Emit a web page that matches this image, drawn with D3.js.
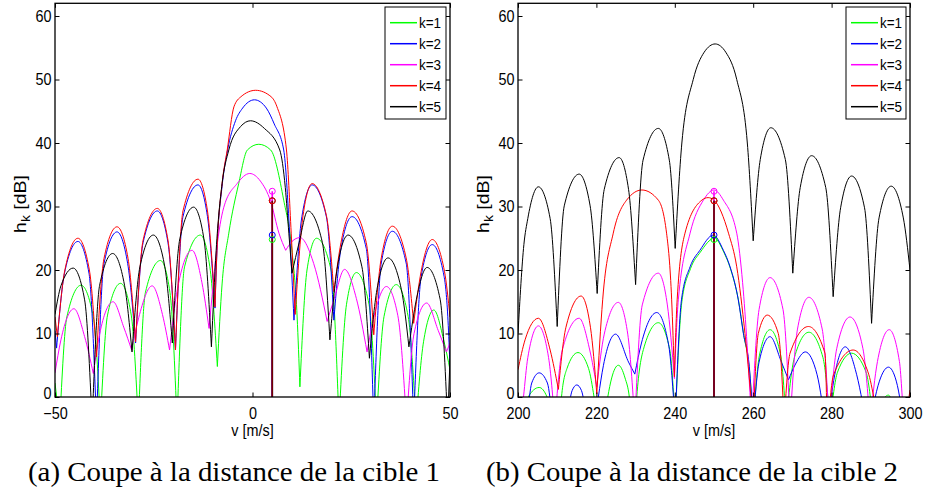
<!DOCTYPE html>
<html><head><meta charset="utf-8">
<script src="https://cdn.jsdelivr.net/npm/d3@7"></script>
<style>body{margin:0;background:#fff}svg{display:block}</style>
</head><body><svg id="c" width="925" height="495"></svg>
<script>
// ---------- data ----------
const seriesNames = ["k=1", "k=2", "k=3", "k=4", "k=5"];
const seriesColors = ["#00ff00", "#0000ff", "#ff00ff", "#ff0000", "#000000"];
const yTickValues = [0, 10, 20, 30, 40, 50, 60];
const xTicksA = [-50, 0, 50];
const xTicksB = [200, 220, 240, 260, 280, 300];
const stemVA = 5;
const stemVB = 250;
const stemHeights = [24.8, 25.5, 32.4, 30.9, 30.9];
const captions = ["(a) Coupe à la distance de la cible 1", "(b) Coupe à la distance de la cible 2"];

// panel (a): v in [-50, 50]
const a_k1 = [[-50,2.2],[-48.8,-4],[-47,12.6],[-43.4,17.6],[-40.3,12.6],[-38.5,-4],[-36.7,12.9],[-33.4,17.9],[-30.7,12.9],[-28.9,-4],[-27.1,16.5],[-23.3,21.5],[-20.9,16.5],[-19.1,-4],[-17.2,20.5],[-13.2,25.5],[-10.8,20.5],[-8.9,4.8],[-7.7,17.8],[-6,25.8],[-3.5,33.6],[-1.3,38.9],[1.6,39.8],[4.6,38.9],[7.9,31],[10,23],[11.3,12.6],[12,1.6],[13.8,20],[16.2,25],[19.9,20],[21.9,-4],[23.8,14.6],[26.3,19.6],[29.5,14.6],[31.4,-4],[33.3,12.7],[36.4,17.7],[39.4,12.7],[41.4,-4],[43.3,8.7],[45.9,13.7],[48.5,8.7],[50,4.3]];
const a_k2 = [[-50,10.4],[-49.6,7.7],[-47.6,19.5],[-44.2,24.5],[-41.4,19.5],[-39.5,-4],[-37.6,21],[-34.3,26],[-31.6,21],[-29.6,8.5],[-27.7,24.3],[-24.1,29.3],[-21.4,24.3],[-19.5,7.4],[-17.6,28.4],[-13.8,33.4],[-11.4,28.4],[-9.5,14],[-9,23],[-7.7,33.2],[-6.3,38.9],[-4.3,43.5],[-2.5,45.5],[0.5,46.8],[3.5,45.5],[5.5,43],[7.9,38.9],[9.4,25.8],[10.5,12.1],[12.5,28.4],[15.1,33.4],[18.7,28.4],[20.6,12.1],[22.4,23.4],[25.2,28.4],[28.8,23.4],[30.7,-4],[32.6,21.1],[35.4,26.1],[38.9,21.1],[40.8,-4],[42.7,19],[45.5,24],[48.5,19],[49.5,12],[50,4.8]];
const a_k3 = [[-50,3.8],[-48.5,9],[-45.2,13.9],[-42.5,9.5],[-40.3,3.7],[-38.5,10.5],[-35.3,15],[-32.6,11],[-30.6,7.4],[-28.8,12.5],[-25.4,17.5],[-22.8,13],[-21,7.4],[-19,17],[-15.3,23.1],[-12.8,18],[-11,10.8],[-10,17.5],[-9.1,23.1],[-7.3,29.8],[-3.9,33.6],[-0.7,35.2],[2,34],[4.6,30.8],[6.7,25.8],[8.4,23.1],[10,24.5],[12,25.1],[15.5,21],[18.9,11.9],[20.7,15.5],[23.3,20.1],[26.3,15.5],[29,7.1],[30.8,12.8],[33.9,17.4],[36.8,12.8],[39,-4],[40.9,10],[44.1,14.8],[47,10.5],[49.1,7.1],[50,8.5]];
const a_k4 = [[-50,12.6],[-49.4,9.5],[-47.5,20],[-44.2,25],[-41.3,20],[-39.5,6.3],[-37.6,21.8],[-34.3,26.8],[-31.5,21.8],[-29.6,8.7],[-27.7,24.7],[-24.1,29.7],[-21.4,24.7],[-19.5,7.4],[-17.6,29.3],[-13.8,34.3],[-11.4,29.3],[-9.5,14.2],[-9,23.1],[-7.7,33.6],[-6.4,38.9],[-4.7,45.7],[-2.9,47.3],[0.8,48.3],[4.7,47.3],[6.2,45.7],[8.6,38.9],[9.8,25.8],[10.8,13],[12.8,28.6],[15.1,33.6],[18.7,28.6],[20.6,16.6],[22.4,24.3],[25.2,29.3],[28.8,24.3],[30.7,9.8],[32.6,21.9],[35.4,26.9],[38.9,21.9],[40.8,11.6],[42.7,19.8],[45.5,24.8],[48.6,19.8],[50,12.6]];
const a_k5 = [[-50,13],[-48.5,17.5],[-45.4,20.3],[-42.5,15.3],[-40.6,-4],[-38.7,17.6],[-35.4,22.6],[-32.4,17.6],[-30.5,7.1],[-28.5,20.5],[-25.1,25.5],[-22.2,20.5],[-20.3,8.5],[-18.4,24.9],[-14.9,29.9],[-12.3,24.9],[-10.4,7.9],[-9.2,23.1],[-7.7,33.6],[-6,38.9],[-3,42.6],[-0.5,43.5],[3,42.3],[6.9,38.9],[8.3,33],[9.2,25.8],[10,19.5],[11.8,24.3],[14,29.3],[17.7,24.3],[19.6,9],[21.5,20.5],[24.2,25.5],[27.7,20.5],[29.6,6.1],[31.5,16.9],[34.3,21.9],[37.7,16.9],[39.6,7.9],[41.5,15.4],[44.2,20.4],[47.5,15.4],[49.4,-4],[50,6]];

// panel (b): v in [200, 300]
const b_k1 = [[200,-8],[202.6,0],[205.4,1.5],[207.4,0],[210.3,-8],[211.1,0],[212.5,4.5],[215.3,7],[218,4.5],[219.4,0],[221.1,-8],[222.9,0],[223.9,3],[225.6,5],[227.3,3],[228.4,0],[229.5,-8],[230.3,0],[232,7.5],[235.8,11.7],[238.7,7.5],[240.1,-4],[241.8,15],[244,20.2],[246.5,22.8],[250.1,25],[252.5,22.8],[254.2,20.2],[256.3,15],[257.6,9.7],[259,4.5],[260,-4],[261.6,6.6],[264.3,10.6],[267,6.6],[268.4,-4],[270.5,6.2],[274.2,10.2],[277.8,6.2],[279.6,-4],[281.5,3.9],[285.1,6.9],[288.8,3.9],[290.6,-4],[294.5,0.3],[298,-8],[300,-10]];
const b_k2 = [[200,-8],[202.3,-3],[203.5,2.2],[205.4,3.8],[207.5,2.2],[208.8,-3],[210.8,-8],[212.8,-2],[213.8,1],[215,1.9],[216.2,1],[217.2,-2],[218.8,-8],[220.5,0],[221.8,5],[224.9,9.9],[228.2,5.5],[229.8,3.6],[231.5,8.5],[235.4,13.3],[238.4,8.3],[240.1,-4],[241.7,15.3],[243.9,20.5],[246.4,23.1],[249.8,25.5],[252.4,23.1],[254.1,20.5],[256.2,15.3],[257.5,10],[259,4.8],[260,-4],[261.5,5.5],[264.3,9.5],[267.2,5.5],[269,2.7],[270.8,5.2],[273.3,7.1],[276.3,3.5],[278.7,-6],[280.8,3.5],[283.5,7.9],[286.4,3.5],[289.3,-6],[292.2,2.5],[294.5,4.7],[296.5,2.5],[298.8,-6],[300,-3]];
const b_k3 = [[200,-8],[201.4,0],[202.5,6.2],[205.2,11.2],[207.8,6.2],[209.4,-4],[211.3,7.4],[215.6,12.4],[218.3,7.4],[220.1,1.6],[222,9.9],[225.6,14.9],[228,9.9],[229.8,-4],[231.7,14.5],[235.8,19.5],[238.1,14.5],[239.9,2.9],[240.9,15.3],[243.9,25.8],[247.3,31],[250,32.6],[252.4,31],[255.8,25.8],[257.3,18],[259.6,-4],[261.5,13.8],[264.3,18.8],[267.6,13.8],[269.4,-4],[271.3,10.7],[274.2,15.7],[277.6,10.7],[279.4,-4],[281.3,7.6],[284.7,12.6],[288,7.6],[289.8,-4],[291.7,5.6],[294.7,10.6],[297.3,5.6],[298.6,-4],[300,-6]];
const b_k4 = [[200,4.3],[201.8,9],[205.2,12.4],[208.2,7.4],[210.3,1.2],[212.2,10.9],[216.1,15.9],[218.5,10.9],[220.1,0.5],[221.6,15.3],[224.3,25.8],[227.7,31],[231.6,32.6],[235.8,31],[237.9,25.8],[239.2,15.3],[239.9,3.2],[240.6,15.3],[242.6,25.8],[246.9,31],[248.5,31.4],[250,31],[253.7,25.8],[255.8,20.5],[257.9,10],[260,-4],[261.3,10],[263.6,12.9],[266.4,10],[267.9,-4],[269.4,6.9],[274.1,11.1],[278.3,6.9],[278.9,-6],[280.5,3.5],[285.5,7.4],[289.5,3.5],[291.1,-1],[295,-10],[299.5,-1],[300,1.1]];
const b_k5 = [[200,10],[201.5,24],[202.5,28.1],[205.2,33.1],[208.2,28.1],[210,11.1],[211.8,30.1],[215.6,35.1],[218.4,30.1],[220.2,16.3],[222,32.7],[225.8,37.7],[228.2,32.7],[230,17.7],[231.9,37.3],[235.8,42.3],[238.6,37.3],[240.1,23.4],[241.8,40],[244.7,50],[247.5,54.3],[250.3,55.6],[253,54.3],[255.8,50],[258.5,40],[260,24.6],[261.8,37.4],[264.5,42.4],[268.2,37.4],[270.1,19.5],[272,33],[274.9,38],[278.5,33],[280.4,15.8],[282.3,29.8],[285.1,34.8],[288.4,29.8],[290.2,11.6],[292.1,28.2],[295.2,33.2],[298.3,28.2],[300,20]];

// ---------- drawing ----------
const svg = d3.select("#c");
svg.append("rect").attr("width", 925).attr("height", 495).attr("fill", "#fff");
const SANS = "'Liberation Sans', Arial, Helvetica, sans-serif";
const SX = 0.9;
const y = d3.scaleLinear().domain([0, 62]).range([397, 3.3]);

const panels = [
  {x0: 55, x1: 450, domain: [-50, 50], ticks: xTicksA, series: [a_k1, a_k2, a_k3, a_k4, a_k5], stemV: stemVA, legX: 385, legW: 61, ylabX: 20, capX: 28, caption: captions[0]},
  {x0: 518, x1: 910, domain: [200, 300], ticks: xTicksB, series: [b_k1, b_k2, b_k3, b_k4, b_k5], stemV: stemVB, legX: 846, legW: 60, ylabX: 483, capX: 486, caption: captions[1]}
];

function splitAtMinima(pts) {
  const segs = []; let cur = [pts[0]];
  for (let i = 1; i < pts.length; i++) {
    cur.push(pts[i]);
    if (i < pts.length - 1 && pts[i][1] <= pts[i-1][1] && pts[i][1] <= pts[i+1][1]) {
      segs.push(cur); cur = [pts[i]];
    }
  }
  if (cur.length > 1) segs.push(cur);
  return segs;
}

panels.forEach((p, pi) => {
  const x = d3.scaleLinear().domain(p.domain).range([p.x0, p.x1]);
  const g = svg.append("g");
  const clipId = "clip" + pi;
  svg.append("clipPath").attr("id", clipId).append("rect")
    .attr("x", p.x0).attr("y", y(62)).attr("width", p.x1 - p.x0).attr("height", y(0) - y(62));

  const line = d3.line().x(d => x(d[0])).y(d => y(d[1])).curve(d3.curveMonotoneX);
  const plot = g.append("g").attr("clip-path", `url(#${clipId})`);
  p.series.forEach((s, si) => {
    plot.append("g").selectAll("path").data(splitAtMinima(s)).join("path")
      .attr("d", line).attr("fill", "none")
      .attr("stroke", seriesColors[si]).attr("stroke-width", 1);
  });

  // stems
  const order = [0, 1, 2, 4, 3];
  order.forEach(si => {
    plot.append("line")
      .attr("x1", x(p.stemV)).attr("x2", x(p.stemV))
      .attr("y1", y(0)).attr("y2", y(stemHeights[si]))
      .attr("stroke", seriesColors[si]).attr("stroke-width", 1.6)
      .attr("stroke-opacity", si === 3 ? 0.45 : 1);
  });
  order.forEach(si => {
    plot.append("circle")
      .attr("cx", x(p.stemV)).attr("cy", y(stemHeights[si])).attr("r", 3)
      .attr("fill", "none").attr("stroke", seriesColors[si]).attr("stroke-width", 1);
  });

  // frame
  g.append("rect").attr("x", p.x0).attr("y", y(62)).attr("width", p.x1 - p.x0).attr("height", y(0) - y(62))
    .attr("fill", "none").attr("stroke", "#000").attr("stroke-width", 1.3);

  // axes
  const tk = 4.5;
  const bottom = g.append("g").attr("transform", `translate(0,${y(0)})`)
    .call(d3.axisBottom(x).tickValues(p.ticks).tickSize(-tk).tickPadding(11));
  const top = g.append("g").attr("transform", `translate(0,${y(62)})`)
    .call(d3.axisTop(x).tickValues(p.ticks).tickSize(-tk).tickFormat(""));
  const left = g.append("g").attr("transform", `translate(${p.x0},0)`)
    .call(d3.axisLeft(y).tickValues(yTickValues).tickSize(-tk).tickPadding(4));
  const right = g.append("g").attr("transform", `translate(${p.x1},0)`)
    .call(d3.axisRight(y).tickValues(yTickValues).tickSize(-tk).tickFormat(""));
  [bottom, top, left, right].forEach(a => {
    a.select(".domain").remove();
    a.selectAll(".tick line").attr("stroke", "#000").attr("stroke-width", 1);
    a.selectAll(".tick text").attr("font-family", SANS).attr("font-size", 16)
      .attr("fill", "#000").attr("transform", `scale(${SX},1)`);
  });
  // lift the bottom "0" label of the y axis slightly so it clears the x labels
  left.selectAll(".tick text").filter(d => d === 0).attr("dy", "0.12em");

  // axis titles
  g.append("text").attr("transform", `translate(${(p.x0 + p.x1) / 2},436) scale(${SX},1)`)
    .attr("text-anchor", "middle").attr("font-family", SANS).attr("font-size", 16).text("v [m/s]");
  const yl = g.append("text").attr("transform", `translate(${p.ylabX + 6},204) rotate(-90) scale(1.15,1)`)
    .attr("text-anchor", "middle").attr("font-family", SANS).attr("font-size", 17);
  yl.append("tspan").text("h");
  yl.append("tspan").attr("font-size", 12).attr("dy", 4).text("k");
  yl.append("tspan").attr("dy", -4).text(" [dB]");

  // legend
  const lg = g.append("g");
  lg.append("rect").attr("x", p.legX).attr("y", 7).attr("width", p.legW).attr("height", 112)
    .attr("fill", "#fff").attr("stroke", "#000").attr("stroke-width", 1);
  seriesNames.forEach((name, si) => {
    const yy = 22.7 + 21 * si;
    lg.append("line").attr("x1", p.legX + 5).attr("x2", p.legX + 32).attr("y1", yy).attr("y2", yy)
      .attr("stroke", seriesColors[si]).attr("stroke-width", 1.5);
    lg.append("text").attr("transform", `translate(${p.legX + 34},${yy + 5.3}) scale(${SX},1)`)
      .attr("font-family", SANS).attr("font-size", 15).text(name);
  });

  // caption
  svg.append("text").attr("x", p.capX).attr("y", 481)
    .attr("font-family", "'Liberation Serif', 'Times New Roman', serif").attr("font-size", 28)
    .attr("textLength", 412).attr("lengthAdjust", "spacingAndGlyphs").text(p.caption);
});
</script></body></html>
